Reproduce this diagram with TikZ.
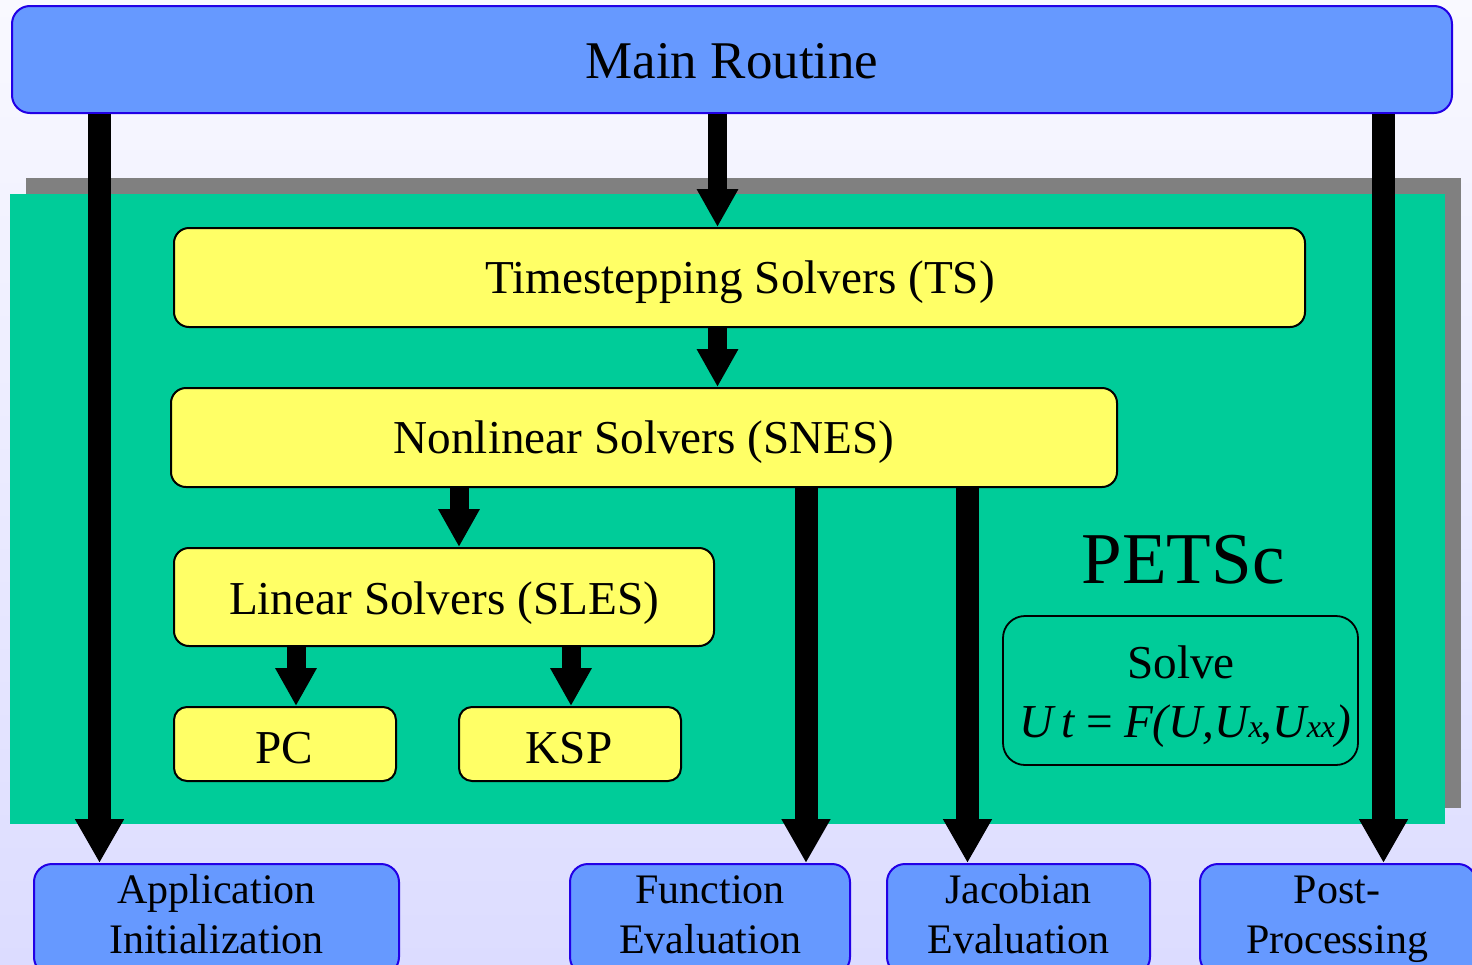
\documentclass[tikz,border=0pt]{standalone}
\usepackage{fontspec}
\setmainfont{Liberation Serif}
\usetikzlibrary{arrows.meta,fit}
\definecolor{bgtop}{RGB}{249,249,255}
\definecolor{bgbot}{RGB}{220,220,255}
\definecolor{boxblue}{RGB}{102,153,255}
\definecolor{edgeblue}{RGB}{34,0,230}
\definecolor{petscgreen}{RGB}{0,204,153}
\definecolor{shadowgray}{RGB}{128,128,128}
\definecolor{boxyellow}{RGB}{255,255,102}
\begin{document}
\begin{tikzpicture}[x=0.5pt,y=-0.5pt,
  bluebox/.style={draw=edgeblue, fill=boxblue, line width=1pt, rounded corners=9pt, inner sep=0pt},
  yellowbox/.style={draw=black, fill=boxyellow, line width=1pt, rounded corners=7.5pt, inner sep=0pt},
  smallyellow/.style={yellowbox, rounded corners=6.5pt},
  solvebox/.style={draw=black, line width=0.9pt, rounded corners=11pt, inner sep=0pt},
  maintxt/.style={anchor=base, inner sep=0pt, font=\fontsize{26.5pt}{30pt}\selectfont},
  ytxt/.style={anchor=base, inner sep=0pt, font=\fontsize{23.6pt}{28pt}\selectfont},
  btxt/.style={anchor=base, inner sep=0pt, align=center, text width=180pt, font=\fontsize{21pt}{25pt}\selectfont},
  bigtxt/.style={anchor=base, inner sep=0pt, font=\fontsize{36.5pt}{40pt}\selectfont},
  longarrow/.style={line width=11.5pt, -{Triangle[length=22pt,width=23pt]}},
  shortarrow/.style={line width=9.5pt, -{Triangle[length=19pt,width=19.5pt]}}
]
\clip (0,0) rectangle (1472,964);
\shade[top color=bgtop, bottom color=bgbot] (0,0) rectangle (1472,964);

% PETSc region
\fill[shadowgray] (26,178) rectangle (1461,808);
\fill[petscgreen] (10,194) rectangle (1445,824);

% boxes
\node[bluebox, fit={(12,6) (1452,113)}] (main) {};
\node[maintxt] (maintext) at (732,78) {Main Routine};

\node[yellowbox, fit={(174,228) (1305,327)}] (ts) {};
\node[ytxt] (tstext) at (740,293) {Timestepping Solvers (TS)};

\node[yellowbox, fit={(171,388) (1117,487)}] (snes) {};
\node[ytxt] (snestext) at (644,453) {Nonlinear Solvers (SNES)};

\node[yellowbox, fit={(174,548) (714,646)}] (sles) {};
\node[ytxt] (slestext) at (444,614) {Linear Solvers (SLES)};

\node[smallyellow, fit={(174,707) (396,781)}] (pc) {};
\node[ytxt] (pctext) at (284,763) {PC};

\node[smallyellow, fit={(459,707) (681,781)}] (ksp) {};
\node[ytxt] (ksptext) at (569,763) {KSP};

\node[bigtxt] (petsc) at (1183,583) {PETSc};
\node[solvebox, fit={(1003,616) (1358,765)}] (solve) {};
\node[ytxt] (solvetext) at (1181,678) {Solve};
\node[ytxt] (eqtext) at (1185,737) {\itshape U\kern4pt t\kern4.5pt=\kern4.5pt F(U,U{\fontsize{16pt}{18pt}\selectfont x}\kern-1pt,U{\fontsize{16pt}{18pt}\selectfont xx})};

\node[bluebox, fit={(34,864) (399,975)}] (app) {};
\node[btxt] (apptext) at (216.5,903) {Application\\Initialization};
\node[bluebox, fit={(570,864) (850,975)}] (func) {};
\node[btxt] (functext) at (710,903) {Function\\Evaluation};
\node[bluebox, fit={(887,864) (1150,975)}] (jac) {};
\node[btxt] (jactext) at (1018.5,903) {Jacobian\\Evaluation};
\node[bluebox, fit={(1200,864) (1476,975)}] (post) {};
\node[btxt] (posttext) at (1337,903) {Post-\\Processing};

% arrow columns
\coordinate (xa) at (99.5,0);
\coordinate (xm) at (717.5,0);
\coordinate (xs) at (459,0);
\coordinate (xp) at (296,0);
\coordinate (xk) at (571,0);
\coordinate (xf) at (806,0);
\coordinate (xj) at (967.5,0);
\coordinate (xr) at (1383.5,0);

\draw[longarrow] (xa |- main.south) -- (xa |- app.north);
\draw[longarrow] (xr |- main.south) -- (xr |- post.north);
\draw[longarrow] (xf |- snes.south) -- (xf |- func.north);
\draw[longarrow] (xj |- snes.south) -- (xj |- jac.north);
\draw[shortarrow] (xm |- main.south) -- (xm |- ts.north);
\draw[shortarrow] (xm |- ts.south) -- (xm |- snes.north);
\draw[shortarrow] (xs |- snes.south) -- (xs |- sles.north);
\draw[shortarrow] (xp |- sles.south) -- (xp |- pc.north);
\draw[shortarrow] (xk |- sles.south) -- (xk |- ksp.north);
\end{tikzpicture}
\end{document}
